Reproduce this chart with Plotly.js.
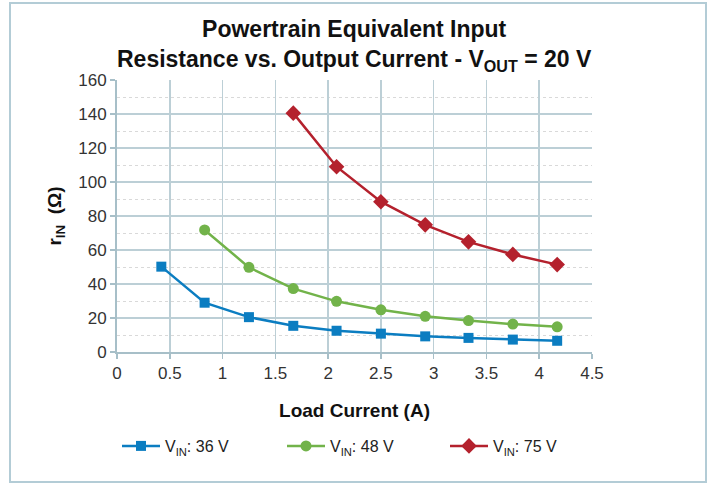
<!DOCTYPE html>
<html>
<head>
<meta charset="utf-8">
<script src="https://cdn.plot.ly/plotly-3.0.1.min.js"></script>
<style>
html,body{margin:0;padding:0;background:#fff;}
#wrap{position:relative;width:707px;height:483px;}
#chart{position:absolute;left:0;top:0;width:707px;height:483px;}
#frame{position:absolute;left:9px;top:2px;width:694px;height:477px;border:2px solid #b3ccd6;pointer-events:none;}
</style>
</head>
<body>
<div id="wrap"><div id="chart"></div><div id="frame"></div></div>
<script>
const loadCurrent = [0.42, 0.83, 1.25, 1.67, 2.08, 2.5, 2.92, 3.33, 3.75, 4.17];
const rin36 = [50.2, 29, 20.5, 15.4, 12.5, 10.8, 9.2, 8.3, 7.3, 6.6];
const current48 = [0.83, 1.25, 1.67, 2.08, 2.5, 2.92, 3.33, 3.75, 4.17];
const rin48 = [71.8, 49.8, 37.3, 29.8, 24.8, 21, 18.5, 16.4, 14.8];
const current75 = [1.67, 2.08, 2.5, 2.92, 3.33, 3.75, 4.17];
const rin75 = [140.5, 109, 88.4, 74.8, 64.8, 57.4, 51.4];
const seriesNames = ['V<sub>IN</sub>: 36 V', 'V<sub>IN</sub>: 48 V', 'V<sub>IN</sub>: 75 V'];
const chartTitle = '<b>Powertrain Equivalent Input<br>Resistance vs. Output Current - V<sub>OUT</sub> = 20 V</b>';

const axisCol = '#a7bfc8';
const font = 'Liberation Sans, Arial, sans-serif';

const traces = [
  {x: loadCurrent, y: rin36, name: seriesNames[0], mode: 'lines+markers', legend: 'legend',
   line: {color: '#0b7dc1', width: 2.5}, marker: {symbol: 'square', size: 10, color: '#0b7dc1'}},
  {x: current48, y: rin48, name: seriesNames[1], mode: 'lines+markers', legend: 'legend2',
   line: {color: '#72b34a', width: 2.5}, marker: {symbol: 'circle', size: 11, color: '#72b34a'}},
  {x: current75, y: rin75, name: seriesNames[2], mode: 'lines+markers', legend: 'legend3',
   line: {color: '#b4212d', width: 2.5}, marker: {symbol: 'diamond', size: 12, color: '#b4212d'}}
];

function leg(xpx) {
  return {orientation: 'h', x: (xpx - 117) / 475, xanchor: 'left', y: (352 - 446) / 272, yanchor: 'middle',
          font: {size: 16, color: '#222'}, itemwidth: 38, bgcolor: 'rgba(0,0,0,0)'};
}

const layout = {
  width: 707, height: 483,
  margin: {l: 117, r: 115, t: 80, b: 131},
  paper_bgcolor: '#fff', plot_bgcolor: '#fff',
  font: {family: font, color: '#333', size: 17},
  annotations: [{text: chartTitle, xref: 'paper', yref: 'paper', x: (354 - 117) / 475, y: (352 - 45) / 272,
                 xanchor: 'center', yanchor: 'middle', showarrow: false,
                 font: {family: font, size: 23, color: '#111'}}],
  xaxis: {range: [0, 4.5], dtick: 0.5, tick0: 0, showline: true, linecolor: axisCol, linewidth: 2,
          showgrid: true, gridcolor: '#bccfd6', gridwidth: 1.5, zeroline: false,
          ticks: 'outside', ticklen: 5, tickcolor: axisCol, tickwidth: 1.5,
          tickfont: {size: 17, color: '#333'},
          title: {text: '<b>Load Current (A)</b>', font: {size: 19, color: '#111'}, standoff: 21}},
  yaxis: {range: [0, 160], dtick: 20, tick0: 0, showline: true, linecolor: axisCol, linewidth: 2,
          showgrid: true, gridcolor: '#bccfd6', gridwidth: 1.5, zeroline: false,
          ticks: 'outside', ticklen: 5, tickcolor: axisCol, tickwidth: 1.5,
          tickfont: {size: 17, color: '#333'},
          minor: {dtick: 10, showgrid: true, gridcolor: '#d9d9d9', griddash: '3px,3px', gridwidth: 1},
          title: {text: '<b>r<sub>IN</sub>&nbsp;&nbsp;(Ω)</b>', font: {size: 19, color: '#111'}, standoff: 12}},
  showlegend: true,
  legend: leg(117), legend2: leg(282), legend3: leg(445)
};

Plotly.newPlot('chart', traces, layout, {displayModeBar: false, staticPlot: true});
</script>
</body>
</html>
